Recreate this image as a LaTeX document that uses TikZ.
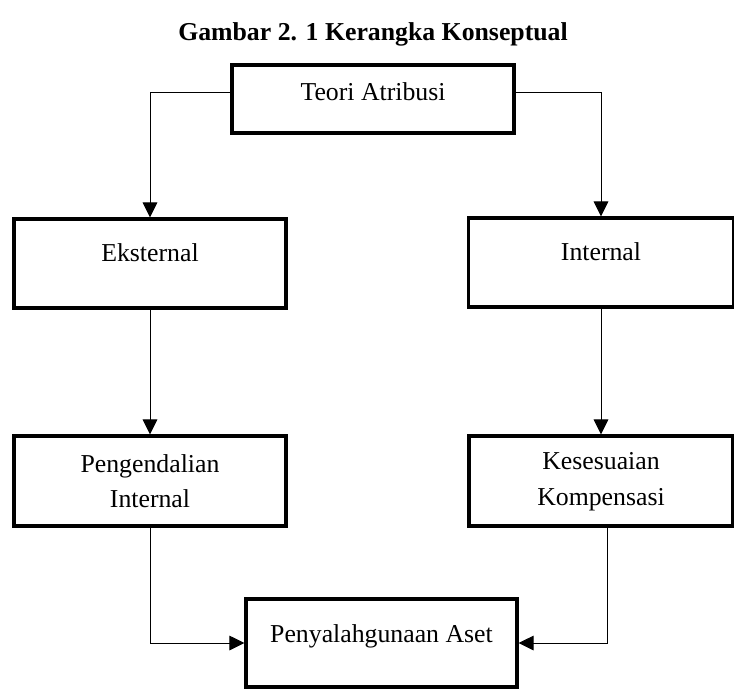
\documentclass[tikz,border=0pt]{standalone}
\usepackage{fontspec}
\setmainfont{Liberation Serif}
\usetikzlibrary{arrows.meta}

\begin{document}
\begin{tikzpicture}[x=0.3mm, y=-0.3mm,
    every node/.style={font=\fontsize{22}{30}\selectfont},
    kotak/.style={draw, line width=2.8pt, inner sep=0pt, align=center},
    naik/.style={text height=5.5mm, text depth=#1},
    panah/.style={-{Triangle[length=4.5mm, width=4.4mm]}, line width=0.8pt}]
    \useasboundingbox (0,0) rectangle (734,688);

    % Judul
    \node[font=\fontsize{22}{26}\selectfont\bfseries] (judul) at (373,34.5) {Gambar 2. 1 Kerangka Konseptual};

    % Kotak
    \node[kotak, naik=4.8mm, minimum width=84.6mm, minimum height=20.4mm] (teori) at (373,99) {Teori Atribusi};
    \node[kotak, naik=6.6mm, minimum width=81.6mm, minimum height=26.7mm] (eks) at (150,263.5) {Eksternal};
    \node[kotak, naik=6.6mm, minimum width=79.5mm, minimum height=26.7mm] (int) at (601,262.5) {Internal};
    \node[kotak, minimum width=81.6mm, minimum height=27mm] (peng) at (150,481) {Pengendalian\\Internal};
    \node[kotak, text depth=1.2mm, minimum width=79.2mm, minimum height=27mm] (kes) at (601,481) {Kesesuaian\\Kompensasi};
    \node[kotak, naik=6mm, minimum width=81.3mm, minimum height=26.4mm] (pen) at (381.5,643) {Penyalahgunaan Aset};

    % Panah
    \draw[panah] ([yshift=2.1mm]teori.west) -| (eks.north);
    \draw[panah] ([yshift=2.1mm]teori.east) -| (int.north);
    \draw[panah] (eks.south) -- (peng.north);
    \draw[panah] (int.south) -- (kes.north);
    \draw[panah] (peng.south) |- (pen.west);
    \draw[panah] ([xshift=2mm]kes.south) |- (pen.east);
\end{tikzpicture}
\end{document}
